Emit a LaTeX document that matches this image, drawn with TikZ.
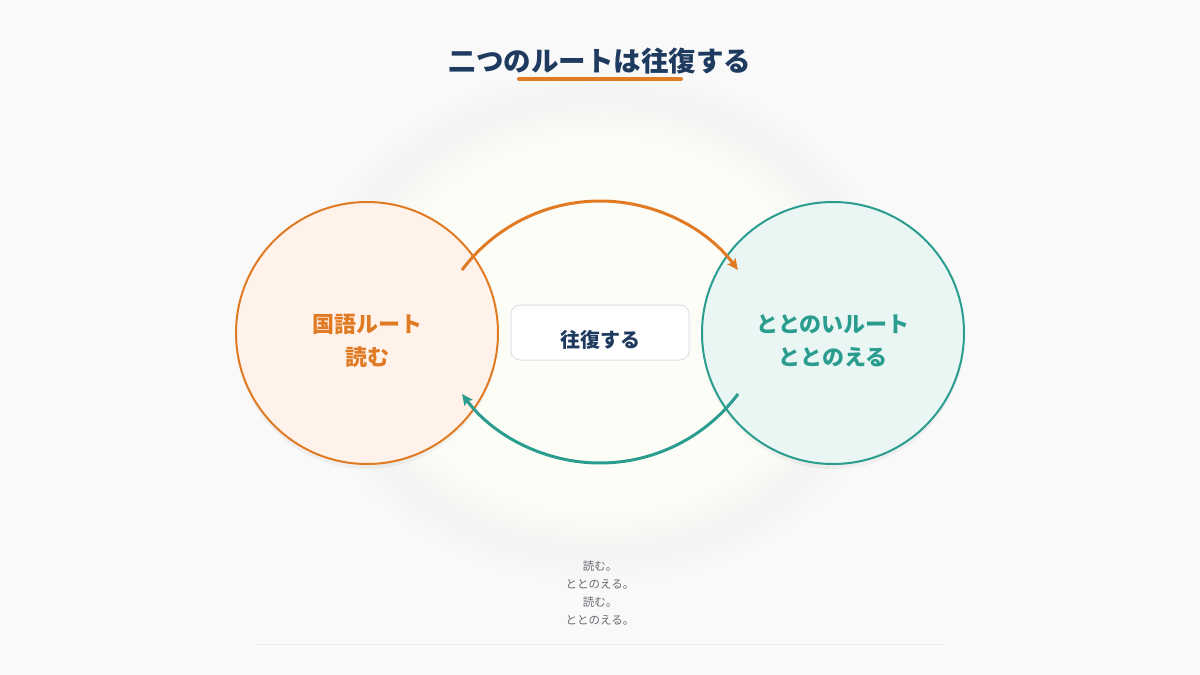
\documentclass[tikz,border=0pt]{standalone}
\usepackage{fontspec}
\setmainfont{Noto Sans CJK JP}
\usetikzlibrary{arrows.meta,shadows}
\definecolor{navy}{HTML}{1E3A5F}
\definecolor{orng}{HTML}{E07B24}
\definecolor{teal}{HTML}{2A9D8F}
\definecolor{lfill}{HTML}{FEF2EA}
\definecolor{rfill}{HTML}{E9F6F3}
\definecolor{bgc}{HTML}{F9F9F9}
\definecolor{glowin}{HTML}{FDFDF8}
\definecolor{glowmid}{HTML}{FBFBF7}
\definecolor{glowedge}{HTML}{F3F3F2}
\definecolor{txtgray}{HTML}{666A70}
\definecolor{boxline}{HTML}{DDE1E6}
\definecolor{rulec}{HTML}{E9EAEB}
\pgfdeclareradialshading{glow}{\pgfpoint{0bp}{0bp}}{color(0bp)=(glowin);color(6.2bp)=(glowin);color(8.0bp)=(glowmid);color(9.6bp)=(glowedge);color(10.9bp)=(bgc);color(50bp)=(bgc)}
\tikzset{
  bigcirc/.style={circle, minimum size=262pt, line width=2pt, inner sep=0pt,
    drop shadow={opacity=0.08, shadow xshift=0pt, shadow yshift=-5pt}},
  circtext/.style={align=center, font=\fontsize{22}{33}\selectfont\bfseries},
  arcline/.style={line width=3pt, -{Stealth[length=11pt,width=10pt,inset=2pt]}},
}
\begin{document}
\begin{tikzpicture}[x=1pt,y=-1pt]
\useasboundingbox (0,0) rectangle (1200,675);
\begin{scope}
\clip (0,0) rectangle (1200,675);
\fill[shading=glow] (-100,-270) rectangle (1300,920);
\end{scope}

% title
\node[font=\fontsize{27.5}{30}\selectfont\bfseries, text=navy] (title) at (600,61) {二つのルートは往復する};
\draw[orng, line width=4pt, line cap=round] (519,79) -- (681,79);

% circles
\node[bigcirc, draw=orng, fill=lfill] (L) at (367,333) {};
\node[bigcirc, draw=teal, fill=rfill] (R) at (833,333) {};
\node[circtext, text=orng] (Lt) at (367,341) {国語ルート\\読む};
\node[circtext, text=teal] (Rt) at (833,341) {ととのいルート\\ととのえる};

% center box
\node[draw=boxline, fill=white, rounded corners=9pt, minimum width=178pt, minimum height=55pt, line width=1pt] (box) at (600,332.5) {};
\node[font=\fontsize{20}{22}\selectfont\bfseries, text=navy] (boxt) at (600,340) {往復する};

% arcs
\coordinate (a1) at (462,270);
\coordinate (b1) at (738,394);
\draw[arcline, orng] (a1) arc[start angle=-143.13, end angle=-36.87, radius=172.5];
\draw[arcline, teal] (b1) arc[start angle=36.87, end angle=143.13, radius=172.5];

% bottom text
\node[align=center, font=\fontsize{11.5}{18}\selectfont, text=txtgray] (foot) at (600,593) {読む。\\ととのえる。\\読む。\\ととのえる。};
\draw[rulec, line width=1pt] (258,644) -- (942,644);
\end{tikzpicture}
\end{document}
